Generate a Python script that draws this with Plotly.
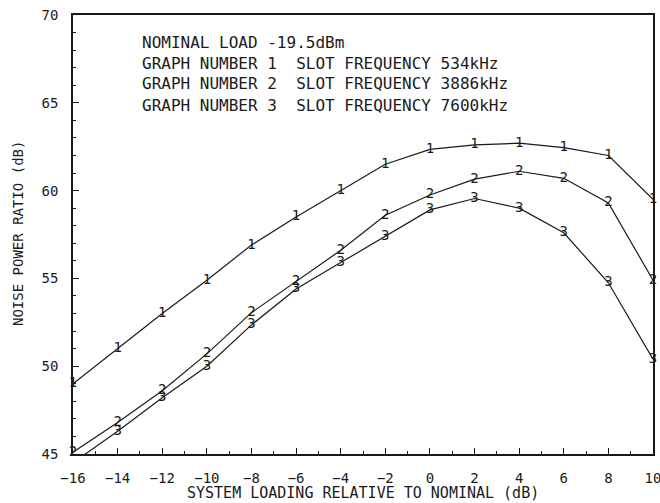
import plotly.graph_objects as go

x_load = [-16, -14, -12, -10, -8, -6, -4, -2, 0, 2, 4, 6, 8, 10]
npr_534 = [49.0, 51.0, 53.0, 54.9, 56.9, 58.5, 60.0, 61.5, 62.35, 62.6, 62.7, 62.45, 62.0, 59.5]
npr_3886 = [45.1, 46.8, 48.6, 50.7, 53.05, 54.8, 56.6, 58.6, 59.75, 60.65, 61.1, 60.7, 59.3, 54.9]
npr_7600 = [44.5, 46.3, 48.2, 50.0, 52.35, 54.4, 55.9, 57.4, 58.9, 59.55, 59.0, 57.6, 54.75, 50.4]
series_labels = ["1", "2", "3"]
header_lines = [
    "NOMINAL LOAD -19.5dBm",
    "GRAPH NUMBER 1  SLOT FREQUENCY 534kHz",
    "GRAPH NUMBER 2  SLOT FREQUENCY 3886kHz",
    "GRAPH NUMBER 3  SLOT FREQUENCY 7600kHz",
]
x_ticks = list(range(-16, 11, 2))
y_ticks = [45, 50, 55, 60, 65, 70]

FONT = "DejaVu Sans Mono"
INK = "#1a1a1a"

L, R, T, B = 73, 7, 15, 49
PW, PH = 660 - L - R, 503 - T - B

fig = go.Figure()
for ys, lab in zip([npr_534, npr_3886, npr_7600], series_labels):
    fig.add_trace(go.Scatter(
        x=x_load, y=ys, mode="lines+text",
        text=[lab] * len(x_load), textposition="middle center",
        textfont=dict(family=FONT, size=14, color=INK),
        line=dict(color=INK, width=1.2),
        cliponaxis=False, showlegend=False, hoverinfo="skip",
    ))

for i, line in enumerate(header_lines):
    ypix = 42 + i * 21
    fig.add_annotation(
        xref="paper", yref="paper", x=(140 - L) / PW, y=1 - (ypix - T) / PH,
        xanchor="left", yanchor="middle", align="left",
        text=line, showarrow=False,
        font=dict(family=FONT, size=16, color=INK),
    )

axis_common = dict(
    showline=True, linecolor=INK, linewidth=1.5, mirror=True, automargin=False,
    showgrid=False, zeroline=False, ticks="inside", ticklen=6, tickwidth=1.2,
    tickcolor=INK, tickfont=dict(family=FONT, size=14, color=INK),
    ticklabelstandoff=10, ticklabeloverflow="allow",
)
fig.update_xaxes(
    range=[-16, 10], tickvals=x_ticks,
    minor=dict(dtick=1, ticks="inside", ticklen=3, tickcolor=INK, tickwidth=1),
    **axis_common,
)
fig.update_yaxes(
    range=[45, 70], tickvals=y_ticks,
    minor=dict(dtick=1, ticks="inside", ticklen=3, tickcolor=INK, tickwidth=1),
    **axis_common,
)
fig.add_annotation(
    xref="paper", yref="paper", x=0.5, y=-(493 - T - PH) / PH,
    xanchor="center", yanchor="middle", showarrow=False,
    text="SYSTEM LOADING RELATIVE TO NOMINAL (dB)",
    font=dict(family=FONT, size=15, color=INK),
)
fig.add_annotation(
    xref="paper", yref="paper", x=-(L - 18) / PW, y=1 - (234 - T) / PH,
    xanchor="center", yanchor="middle", showarrow=False, textangle=-90,
    text="NOISE POWER RATIO (dB)",
    font=dict(family=FONT, size=14, color=INK),
)
fig.update_layout(
    width=660, height=503,
    margin=dict(l=L, r=R, t=T, b=B),
    plot_bgcolor="white", paper_bgcolor="white",
    hovermode=False,
)
fig.write_html("out.html", config={"displayModeBar": False},
               post_script="document.body.style.margin='0';")
